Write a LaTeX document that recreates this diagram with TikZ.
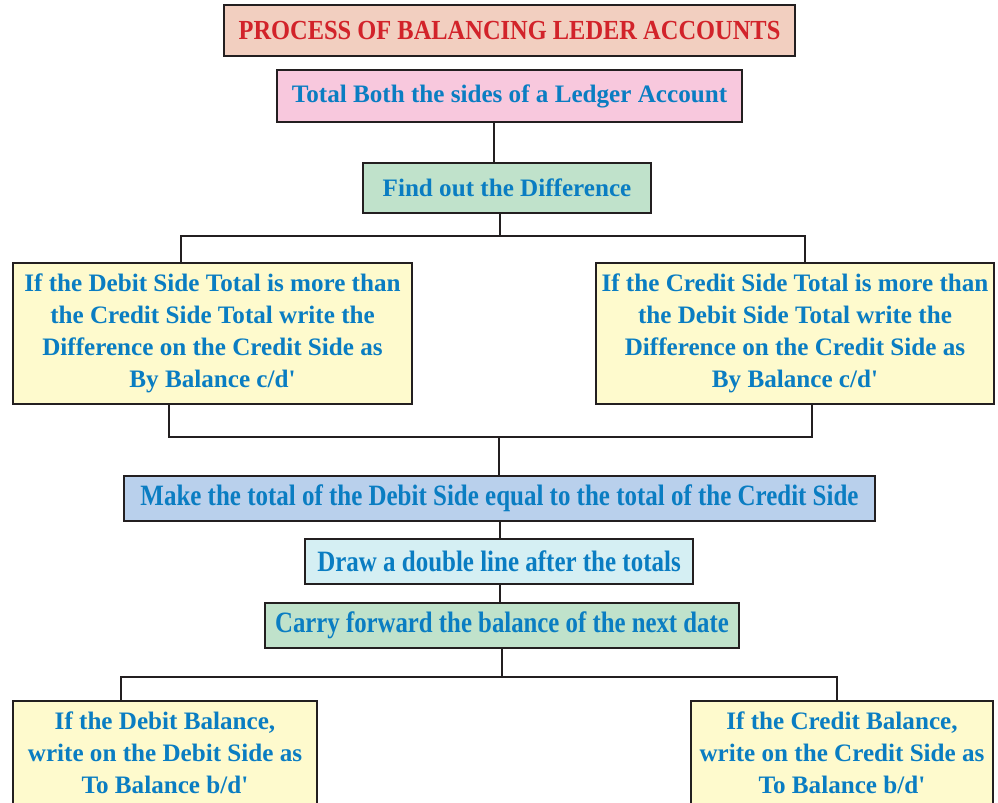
\documentclass[tikz,border=0pt]{standalone}
\usepackage{fontspec}
\setmainfont{Liberation Serif}
\usepackage{tikz}

\definecolor{linec}{HTML}{231F20}
\definecolor{textblue}{HTML}{0A7DC2}
\definecolor{titlered}{HTML}{D2232A}
\definecolor{titlefill}{HTML}{F2CFC0}
\definecolor{pinkfill}{HTML}{F8C8DD}
\definecolor{greenfill}{HTML}{C0E2CB}
\definecolor{yellowfill}{HTML}{FEFACD}
\definecolor{bluefill}{HTML}{B9D0EC}
\definecolor{cyanfill}{HTML}{D5EFF3}

\newcommand{\narrow}[2]{\scalebox{#1}[1]{#2}}

\begin{document}
\begin{tikzpicture}[x=0.02cm,y=-0.02cm,
  box/.style={draw=linec,line width=1.6pt,inner sep=0pt,align=center,text=textblue,
    font=\bfseries\fontsize{14.3}{18.2}\selectfont},
  tallbox/.style={box,font=\bfseries\fontsize{16.8}{18.2}\selectfont},
  link/.style={draw=linec,line width=1.6pt}]

\useasboundingbox (0,0) rectangle (998,803);
\clip (0,0) rectangle (998,803);

% boxes
\node [box,fill=titlefill,text=titlered,minimum width=11.42cm,minimum height=1.02cm,font=\bfseries\fontsize{15.7}{17}\selectfont] (title) at (509.5,30.5) {\narrow{0.886}{PROCESS OF BALANCING LEDER ACCOUNTS}};
\node [box,fill=pinkfill,minimum width=9.3cm,minimum height=1.04cm] (total) at (509.5,96) {Total Both the sides of a Ledger Account};
\node [box,fill=greenfill,minimum width=5.76cm,minimum height=1.0cm] (diff) at (507,188) {Find out the Difference};

\node [box,fill=yellowfill,minimum width=7.98cm,minimum height=2.82cm] (debitgt) at (212.5,333.5) {If the Debit Side Total is more than\\the Credit Side Total write the\\Difference on the Credit Side as\\By Balance c/d\textquotesingle};
\node [box,fill=yellowfill,minimum width=7.96cm,minimum height=2.82cm] (creditgt) at (795,333.5) {If the Credit Side Total is more than\\the Debit Side Total write the\\Difference on the Credit Side as\\By Balance c/d\textquotesingle};

\node [tallbox,fill=bluefill,minimum width=15.02cm,minimum height=0.9cm] (equal) at (499.5,498.5) {\narrow{0.846}{Make the total of the Debit Side equal to the total of the Credit Side}};
\node [tallbox,fill=cyanfill,minimum width=7.76cm,minimum height=0.9cm] (dline) at (499,561.5) {\narrow{0.846}{Draw a double line after the totals}};
\node [tallbox,fill=greenfill,minimum width=9.48cm,minimum height=0.9cm] (carry) at (502,625.5) {\narrow{0.84}{Carry forward the balance of the next date}};

\node [box,fill=yellowfill,minimum width=6.08cm,minimum height=2.08cm] (debitbal) at (165,753) {If the Debit Balance,\\write on the Debit Side as\\To Balance b/d\textquotesingle};
\node [box,fill=yellowfill,minimum width=6.04cm,minimum height=2.08cm] (creditbal) at (842,753) {If the Credit Balance,\\write on the Credit Side as\\To Balance b/d\textquotesingle};

% connector x positions
\coordinate (s1) at (494,0);
\coordinate (s2) at (500,236);
\coordinate (l2) at (181,0);
\coordinate (r2) at (805,0);
\coordinate (s3) at (499,437);
\coordinate (l3) at (169,0);
\coordinate (r3) at (812,0);
\coordinate (s4) at (500,0);
\coordinate (s5) at (502,677);
\coordinate (l5) at (121,0);
\coordinate (r5) at (837,0);

% connectors
\draw [link] (total.south -| s1) -- (diff.north -| s1);
\draw [link] (diff.south -| s2) -- (s2);
\draw [link] (debitgt.north -| l2) -- (l2 |- s2) -- (r2 |- s2) -- (creditgt.north -| r2);
\draw [link] (debitgt.south -| l3) -- (l3 |- s3) -- (r3 |- s3) -- (creditgt.south -| r3);
\draw [link] (s3) -- (equal.north -| s3);
\draw [link] (equal.south -| s4) -- (dline.north -| s4);
\draw [link] (dline.south -| s4) -- (carry.north -| s4);
\draw [link] (carry.south -| s5) -- (s5);
\draw [link] (debitbal.north -| l5) -- (l5 |- s5) -- (r5 |- s5) -- (creditbal.north -| r5);

\end{tikzpicture}
\end{document}
